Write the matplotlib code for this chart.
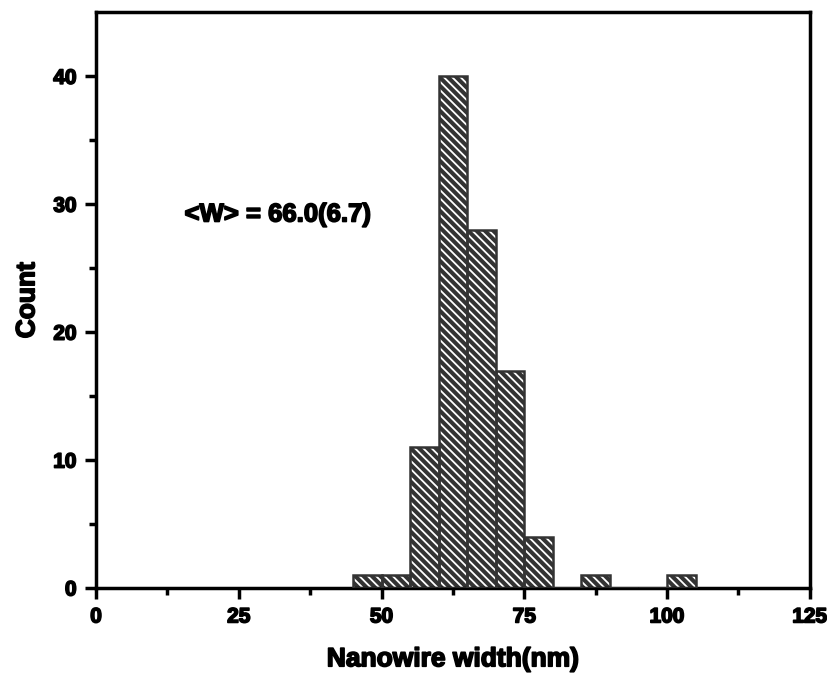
import matplotlib
matplotlib.use("Agg")
import matplotlib.pyplot as plt
import matplotlib.patheffects as pe
import numpy as np

plt.rcParams['font.family'] = ['Liberation Sans', 'DejaVu Sans']
plt.rcParams['hatch.linewidth'] = 1.3

bin_left = [45, 50, 55, 60, 65, 70, 75, 80, 85, 90, 95, 100]
counts = [1, 1, 11, 40, 28, 17, 4, 0, 1, 0, 0, 1]
bin_width = 5
x_ticks = [0, 25, 50, 75, 100, 125]
y_ticks = [0, 10, 20, 30, 40]
annotation = "<W> = 66.0(6.7)"

fig = plt.figure(figsize=(8.28, 6.74), dpi=100)
ax = fig.add_axes([0.116, 0.1276, 0.862, 0.854])

fill = "#333333"
heavy = [pe.withStroke(linewidth=1.2, foreground='black')]

# white hatch on dark fill
ax.bar(bin_left, counts, width=bin_width, align='edge', color=fill,
       edgecolor='white', hatch='\\\\\\\\', linewidth=0, zorder=2)
ax.bar(bin_left, counts, width=bin_width, align='edge', fill=False,
       edgecolor=fill, linewidth=1.8, zorder=3)

ax.set_xlim(0, 125)
ax.set_ylim(0, 45)
ax.set_xticks(x_ticks)
ax.set_yticks(y_ticks)
ax.set_xticks(np.arange(12.5, 125, 25), minor=True)
ax.set_yticks(np.arange(5, 45, 10), minor=True)

for s in ax.spines.values():
    s.set_linewidth(2.5)
ax.tick_params(which='major', direction='out', length=8, width=2.5,
               labelsize=15, pad=6)
ax.tick_params(which='minor', direction='out', length=5, width=2.5)
for lab in ax.get_xticklabels() + ax.get_yticklabels():
    lab.set_fontweight('bold')
    lab.set_path_effects(heavy)

ax.set_xlabel("Nanowire width(nm)", fontsize=19, fontweight='bold', labelpad=15,
              path_effects=heavy)
ax.set_ylabel("Count", fontsize=19, fontweight='bold', labelpad=10,
              path_effects=heavy)

ax.text(15.5, 29.2, annotation, fontsize=18.5, fontweight='bold', va='center',
        ha='left', path_effects=heavy)

fig.savefig("out.png", dpi=100)
